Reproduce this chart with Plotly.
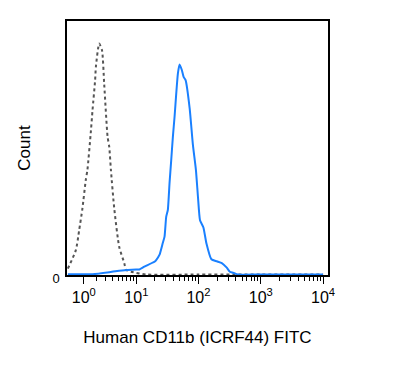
import numpy as np
import plotly.graph_objects as go

# Fluorescence values (FITC) and counts (% of max scale)
iso_x = [0, 0.48, 0.69, 0.90, 1.14, 1.26, 1.54, 1.67, 1.90, 1.97, 2.30, 2.60, 2.86, 3.29, 3.52, 3.77, 4.31, 5.23, 6.34, 6.78, 8.2, 14.4, 100, 1000, 10000]
iso_y = [2.5, 9.8, 17.7, 26.0, 37.4, 41.3, 57.0, 64.9, 76.7, 81.9, 91.1, 88.5, 75.0, 54.4, 50.5, 41.3, 26.0, 11.0, 4.7, 2.0, 1.3, 0.2, 0.2, 0.2, 0.2]

cd11b_x = [0, 1.67, 3.52, 5.23, 9.9, 11.2, 13.5, 19.6, 20.9, 23.6, 26.7, 28.5, 30.3, 32.2, 34.3, 36.5, 38.8, 41.3, 44.0, 46.7, 49.7, 54.2, 57.7, 62.1, 72.1, 81.5, 91, 98.1, 105.8, 120, 134, 161, 197, 237, 282, 319, 360, 429, 1000, 10000]
cd11b_y = [0.3, 0.3, 1.1, 1.7, 2.2, 2.2, 3.3, 5.2, 5.9, 7.9, 12.6, 15.1, 22.9, 25.6, 36.2, 45.2, 54.4, 62.3, 71.6, 79.3, 82.9, 80.6, 78.0, 76.7, 65.7, 51.1, 41.3, 30.8, 21.6, 18.7, 12.5, 6.2, 5.4, 4.7, 3.0, 1.3, 0.9, 0.2, 0.2, 0.2]

major_vals = [1, 10, 100, 1000, 10000]
major_text = ["10<sup>0</sup>", "10<sup>1</sup>", "10<sup>2</sup>", "10<sup>3</sup>", "10<sup>4</sup>"]

A = 0.8  # biexponential (arcsinh) width parameter


def tf(v):
    return np.arcsinh(np.asarray(v, dtype=float) / (2 * A)) / np.log(10)


minor_vals = [m * 10 ** k for k in range(0, 4) for m in range(2, 10)]

fig = go.Figure()
fig.add_trace(go.Scatter(x=tf(iso_x), y=iso_y, mode="lines",
                         line=dict(color="#555555", width=2, dash="dot", shape="spline", smoothing=0.6),
                         hoverinfo="skip"))
fig.add_trace(go.Scatter(x=tf(cd11b_x), y=cd11b_y, mode="lines",
                         line=dict(color="#1a80ff", width=2, shape="spline", smoothing=0.5),
                         hoverinfo="skip"))

fig.update_layout(
    width=379, height=361,
    margin=dict(l=59, r=59, t=13, b=94),
    plot_bgcolor="white", paper_bgcolor="white",
    showlegend=False,
    font=dict(family="Liberation Sans, Arial, sans-serif", color="black"),
)
fig.update_xaxes(
    automargin=False,
    range=[float(tf(-0.05)), float(tf(12000))],
    tickmode="array", tickvals=tf(major_vals).tolist(), ticktext=major_text,
    ticks="outside", ticklen=7, tickwidth=1, tickcolor="black",
    minor=dict(tickvals=tf(minor_vals).tolist(), ticks="outside", ticklen=4, tickwidth=1, tickcolor="black"),
    showline=True, linecolor="black", linewidth=1.5, mirror=True,
    showgrid=False, zeroline=False,
    tickfont=dict(size=16),
    title=dict(text="Human CD11b (ICRF44) FITC", font=dict(size=17), standoff=26),
)
fig.update_yaxes(
    automargin=False,
    range=[0, 100],
    tickmode="array", tickvals=[0], ticktext=["0"],
    ticks="", ticklabelstandoff=3, ticklabelshift=3,
    showline=True, linecolor="black", linewidth=1.5, mirror=True,
    showgrid=False, zeroline=False,
    tickfont=dict(size=13),
    title=dict(text="Count", font=dict(size=17), standoff=17),
)

fig.write_html("out.html")
